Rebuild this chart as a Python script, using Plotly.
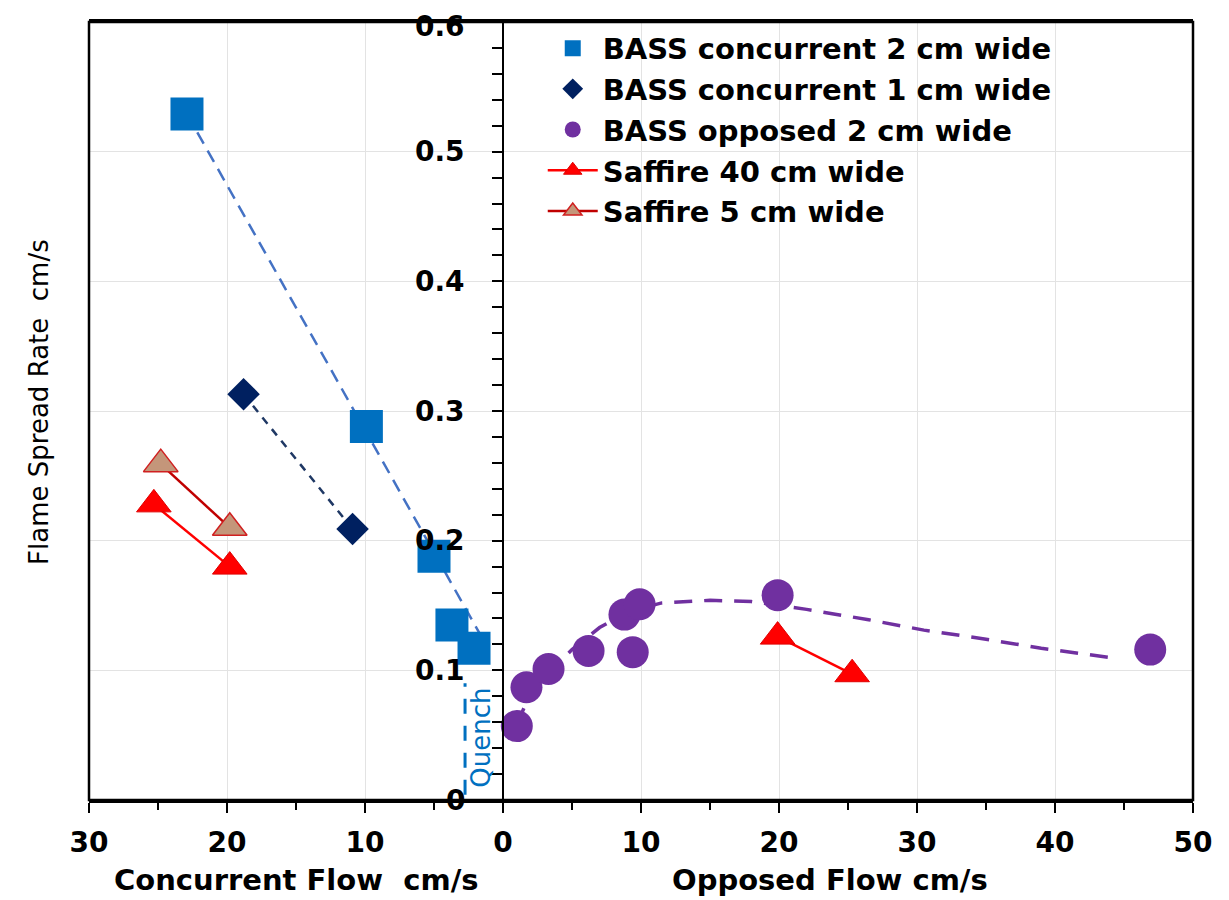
import plotly.graph_objects as go

# ---- data (x < 0 : concurrent flow, x > 0 : opposed flow) ----
sq_x = [-22.9, -9.9, -5.0, -3.7, -2.1]
sq_y = [0.529, 0.288, 0.188, 0.135, 0.117]
sq_trend_x = [-22.9, -1.3]
sq_trend_y = [0.529, 0.121]

dia_x = [-18.8, -10.9]
dia_y = [0.313, 0.209]

opp_x = [1.0, 1.7, 3.3, 6.2, 8.8, 9.9, 9.4, 19.9, 46.9]
opp_y = [0.057, 0.087, 0.101, 0.115, 0.143, 0.151, 0.114, 0.158, 0.116]
opp_trend_x = [1.0, 2.0, 3.5, 5.0, 7.0, 9.0, 11.5, 15.0, 18.0, 22.0, 26.5, 30.5, 35.0, 39.0, 44.6]
opp_trend_y = [0.058, 0.083, 0.100, 0.116, 0.133, 0.145, 0.152, 0.154, 0.153, 0.147, 0.139, 0.131, 0.124, 0.117, 0.109]

saf40_x = [-25.3, -19.8, None, 19.9, 25.3]
saf40_y = [0.228, 0.180, None, 0.126, 0.097]

saf5_x = [-24.8, -19.8]
saf5_y = [0.259, 0.210]

quench_x = [-2.75, -2.75]
quench_y = [0.004, 0.090]

x_tickvals = [-30, -20, -10, 0, 10, 20, 30, 40, 50]
x_ticktext = ["30", "20", "10", "0", "10", "20", "30", "40", "50"]
y_tickvals = [0, 0.1, 0.2, 0.3, 0.4, 0.5, 0.6]
y_ticktext = ["0", "0.1", "0.2", "0.3", "0.4", "0.5", "0.6"]

FONT = "DejaVu Sans"

fig = go.Figure()

# trend lines (no legend)
fig.add_trace(go.Scatter(x=sq_trend_x, y=sq_trend_y, mode="lines", showlegend=False,
                         line=dict(color="#4472C4", width=2.5, dash="13px,8px"), hoverinfo="skip"))
fig.add_trace(go.Scatter(x=dia_x, y=dia_y, mode="lines", showlegend=False,
                         line=dict(color="#1F3864", width=2.5, dash="8px,7px"), hoverinfo="skip"))
fig.add_trace(go.Scatter(x=opp_trend_x, y=opp_trend_y, mode="lines", showlegend=False,
                         line=dict(color="#7030A0", width=3.5, dash="18px,12px"), hoverinfo="skip"))
fig.add_trace(go.Scatter(x=quench_x, y=quench_y, mode="lines", showlegend=False,
                         line=dict(color="#0070C0", width=3, dash="15px,12px"), hoverinfo="skip"))

# data series
fig.add_trace(go.Scatter(x=sq_x, y=sq_y, mode="markers", name="BASS concurrent 2 cm wide",
                         marker=dict(symbol="square", size=33, color="#0070C0")))
fig.add_trace(go.Scatter(x=dia_x, y=dia_y, mode="markers", name="BASS concurrent 1 cm wide",
                         marker=dict(symbol="diamond", size=25, color="#002060")))
fig.add_trace(go.Scatter(x=opp_x, y=opp_y, mode="markers", name="BASS opposed 2 cm wide",
                         marker=dict(symbol="circle", size=32, color="#7030A0")))
fig.add_trace(go.Scatter(x=saf40_x, y=saf40_y, mode="lines+markers", name="Saffire 40 cm wide",
                         connectgaps=False,
                         line=dict(color="#FF0000", width=2.5),
                         marker=dict(symbol="triangle-up", size=30, color="#FF0000",
                                     line=dict(color="#E00000", width=1))))
fig.add_trace(go.Scatter(x=saf5_x, y=saf5_y, mode="lines+markers", name="Saffire 5 cm wide",
                         line=dict(color="#C00000", width=2.5),
                         marker=dict(symbol="triangle-up", size=30, color="#C4967A",
                                     line=dict(color="#D02020", width=1.5))))

# y tick labels (placed next to the axis drawn at x = 0)
ytick_annotations = [
    dict(text=t, xref="x", yref="y", x=0, y=v, xanchor="right", yanchor="middle",
         xshift=-36, yshift=(-4 if v == max(y_tickvals) else 0), showarrow=False,
         font=dict(family=FONT, size=28, weight="bold", color="black"))
    for v, t in zip(y_tickvals, y_ticktext)
]

fig.update_layout(
    width=1213, height=892,
    margin=dict(l=81, r=28, t=14, b=100, autoexpand=False),
    paper_bgcolor="white", plot_bgcolor="white",
    font=dict(family=FONT, color="black"),
    xaxis=dict(range=[-30, 50], domain=[0, 1], tickmode="array",
               tickvals=x_tickvals, ticktext=x_ticktext, automargin=False,
               tickfont=dict(family=FONT, size=28, weight="bold"),
               showline=True, linecolor="black", linewidth=2.5, mirror=True,
               ticks="outside", ticklen=10, tickwidth=2, tickcolor="black",
               ticklabelstandoff=6, ticklabeloverflow="allow",
               showgrid=True, gridcolor="#E3E3E3", gridwidth=1, zeroline=False,
               minor=dict(dtick=5, tick0=0, ticks="outside", ticklen=7, tickwidth=2,
                          tickcolor="black", showgrid=False)),
    yaxis=dict(range=[0, 0.6], anchor="free", position=0.375, tickmode="array",
               tickvals=y_tickvals, showticklabels=False, automargin=False,
               showline=True, linecolor="black", linewidth=2,
               ticks="outside", ticklen=10, tickwidth=2, tickcolor="black",
               showgrid=True, gridcolor="#E3E3E3", gridwidth=1, zeroline=False,
               minor=dict(dtick=0.02, tick0=0, ticks="outside", ticklen=10, tickwidth=2,
                          tickcolor="black", showgrid=False)),
    legend=dict(x=0.411, y=0.999, xanchor="left", yanchor="top",
                bgcolor="rgba(255,255,255,0)", borderwidth=0,
                font=dict(family=FONT, size=29, weight="bold", color="black"),
                itemwidth=50),
    shapes=[dict(type="rect", xref="paper", yref="paper", x0=0, x1=1, y0=0, y1=1,
                 line=dict(color="black", width=2.5), layer="above")],
    annotations=ytick_annotations + [
        dict(text="Flame Spread Rate  cm/s", xref="paper", yref="paper",
             x=-0.046, y=0.512, xanchor="center", yanchor="middle", textangle=-90,
             showarrow=False, font=dict(family=FONT, size=26, color="black")),
        dict(text="Concurrent Flow  cm/s", xref="paper", yref="paper",
             x=(296 - 89) / 1104, y=-(880 - 800) / 778, xanchor="center", yanchor="middle",
             showarrow=False, font=dict(family=FONT, size=29, weight="bold", color="black")),
        dict(text="Opposed Flow cm/s", xref="paper", yref="paper",
             x=(830 - 89) / 1104, y=-(880 - 800) / 778, xanchor="center", yanchor="middle",
             showarrow=False, font=dict(family=FONT, size=29, weight="bold", color="black")),
        dict(text="Quench", xref="x", yref="y", x=-1.6, y=0.048,
             xanchor="center", yanchor="middle", textangle=-90, showarrow=False,
             font=dict(family=FONT, size=26, color="#0070C0")),
    ],
)

fig.write_html("out.html")
